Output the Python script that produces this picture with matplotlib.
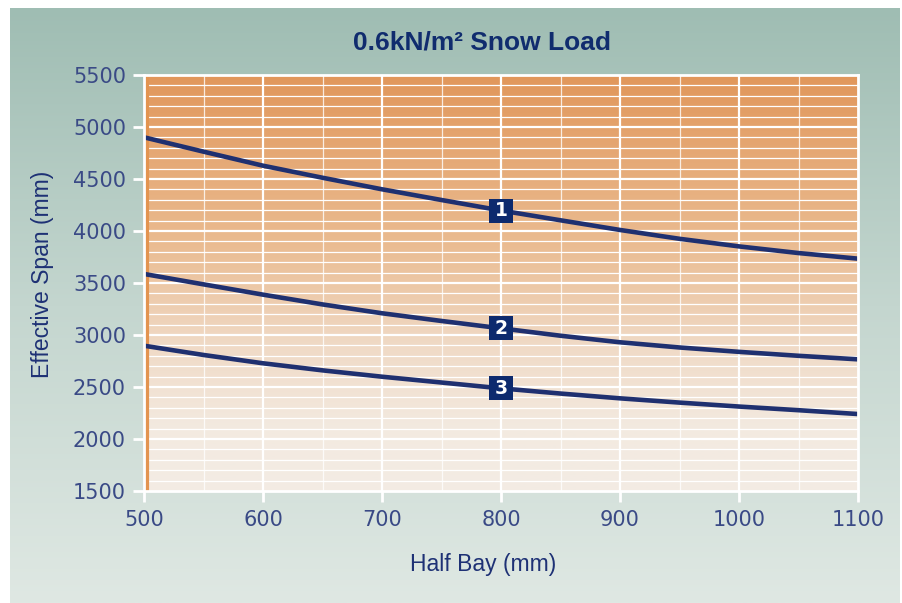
import numpy as np
import matplotlib
matplotlib.use("Agg")
import matplotlib.pyplot as plt
from matplotlib.colors import LinearSegmentedColormap

# données
half_bay = [500, 550, 600, 650, 700, 750, 800, 850, 900, 950, 1000, 1050, 1100]
span_1 = [4901, 4763, 4628, 4512, 4401, 4298, 4197, 4103, 4010, 3925, 3852, 3788, 3734]
span_2 = [3587, 3487, 3388, 3294, 3209, 3135, 3064, 2993, 2930, 2880, 2838, 2800, 2766]
span_3 = [2897, 2808, 2728, 2660, 2599, 2543, 2487, 2437, 2391, 2350, 2312, 2277, 2240]
curve_labels = ["1", "2", "3"]
label_x = 800

x_ticks = [500, 600, 700, 800, 900, 1000, 1100]
y_ticks = [1500, 2000, 2500, 3000, 3500, 4000, 4500, 5000, 5500]

navy = "#1F3070"
box_navy = "#0D2A6E"
text_navy = "#3A4A86"

W, H = 903, 603
fig = plt.figure(figsize=(W / 100, H / 100), dpi=100)
fig.patch.set_facecolor("white")

# fond dégradé (vert-gris)
bg = fig.add_axes([10 / W, 0, 890 / W, (H - 8) / H], zorder=-10)
bg_cmap = LinearSegmentedColormap.from_list("bg", ["#9FBDB3", "#C4D6CF", "#DFE8E3"])
bg.imshow(np.linspace(0, 1, 256).reshape(-1, 1), cmap=bg_cmap, aspect="auto",
          extent=[0, 1, 0, 1], origin="upper")
bg.axis("off")

ax = fig.add_axes([144 / W, 1 - 491 / H, (858 - 144) / W, (491 - 75) / H])
ax.set_facecolor("none")

# dégradé orange de la zone de tracé
plot_cmap = LinearSegmentedColormap.from_list(
    "plot", [(0, "#E1975B"), (0.4, "#EABB90"), (0.65, "#F0DAC6"),
             (0.85, "#F3EAE0"), (1, "#F3ECE4")])
ax.imshow(np.linspace(0, 1, 256).reshape(-1, 1), cmap=plot_cmap, aspect="auto",
          extent=[500, 1100, 1500, 5500], origin="upper", zorder=0)

ax.set_xlim(500, 1100)
ax.set_ylim(1500, 5500)

# grille
for x in range(550, 1100, 100):
    ax.axvline(x, color="white", lw=0.9, alpha=0.8, zorder=1)
for x in range(600, 1100, 100):
    ax.axvline(x, color="white", lw=1.6, zorder=1)
for y in range(1600, 5500, 100):
    lw = 1.6 if y % 500 == 0 else 0.9
    ax.axhline(y, color="white", lw=lw, zorder=1)

# bande orange le long de l'axe vertical
ax.plot([0.0045, 0.0045], [0, 1], transform=ax.transAxes, color="#E39450",
        lw=3, zorder=2, solid_capstyle="butt")

for span, lab in zip([span_1, span_2, span_3], curve_labels):
    ax.plot(half_bay, span, color=navy, lw=3.3, zorder=3, solid_capstyle="butt")
    y_lab = span[half_bay.index(label_x)]
    ax.plot([label_x], [y_lab], marker="s", markersize=17, color=box_navy,
            markeredgewidth=0, zorder=4)
    ax.text(label_x, y_lab, lab, color="white", fontsize=13.5, fontweight="bold",
            family="Liberation Sans Narrow", ha="center", va="center", zorder=5)

for s in ax.spines.values():
    s.set_color("white")
    s.set_linewidth(2)
    s.set_zorder(6)

ax.set_xticks(x_ticks)
ax.set_yticks(y_ticks)
ax.tick_params(axis="both", colors="white", length=8, width=2, direction="out",
               labelcolor=text_navy, labelsize=15)
ax.tick_params(axis="y", pad=5)
ax.tick_params(axis="x", pad=6)
for lbl in ax.get_xticklabels() + ax.get_yticklabels():
    lbl.set_family("DejaVu Sans")

fig.text(43 / W, 1 - 274 / H, "Effective Span (mm)", rotation=90, ha="center",
         va="center", fontsize=16.5, color="#1E3175", family="Liberation Sans")
fig.text(483 / W, 1 - 565 / H, "Half Bay (mm)", ha="center", va="center",
         fontsize=16.5, color="#1E3175", family="Liberation Sans")
fig.text(482 / W, 1 - 42 / H, "0.6kN/m² Snow Load", ha="center", va="center",
         fontsize=19, fontweight="bold", color="#102C6E", family="Liberation Sans")

fig.savefig("out.png", dpi=100)
